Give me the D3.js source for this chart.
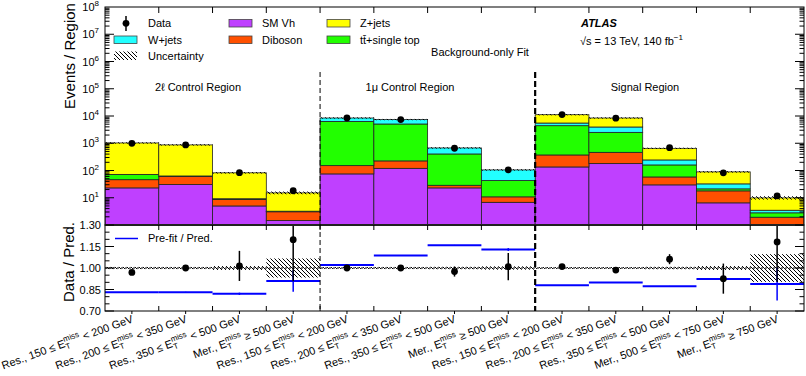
<!DOCTYPE html>
<html><head><meta charset="utf-8">
<script src="https://cdn.jsdelivr.net/npm/d3@7"></script>
<style>
body{margin:0;background:#fff;}
text{font-family:"Liberation Sans",Arial,Helvetica,sans-serif;fill:#000;}
</style></head>
<body>
<svg id="c" width="806" height="376"></svg>
<script>
// ---------------- data ----------------
const categories = ["2l-R150","2l-R200","2l-R350","2l-M500","1mu-R150","1mu-R200","1mu-R350","1mu-M500","SR-R150","SR-R200","SR-R350","SR-M500","SR-M750"];
const labelPre  = ["Res., 150 ≤ ","Res., 200 ≤ ","Res., 350 ≤ ","Mer., ","Res., 150 ≤ ","Res., 200 ≤ ","Res., 350 ≤ ","Mer., ","Res., 150 ≤ ","Res., 200 ≤ ","Res., 350 ≤ ","Mer., 500 ≤ ","Mer., "];
const labelPost = ["< 200 GeV","< 350 GeV","< 500 GeV","≥ 500 GeV","< 200 GeV","< 350 GeV","< 500 GeV","≥ 500 GeV","< 200 GeV","< 350 GeV","< 500 GeV","< 750 GeV","≥ 750 GeV"];
const smVh    = [23, 30.5, 5.0, 1.46, 75, 120, 23, 6.8, 135, 179, 29.7, 6.5, 0.8];
const diboson = [23, 30.5, 3.6, 1.6, 76, 105, 5.7, 4.0, 237, 285, 28.3, 11.4, 1.13];
const ttbar   = [25, 1.5, 0.4, 0.1, 6180, 4865, 376, 31.9, 4043, 2046, 102, 3.3, 0.87];
const wjets   = [1, 0.5, 0.2, 0.05, 2120, 2310, 268, 62.3, 1105, 1440, 84, 11.1, 0.68];
const zjets   = [953, 807, 73, 11.9, 0, 0, 0, 0, 5650, 4500, 406, 56.7, 6.42];
const dataVals = [993, 870, 83.4, 18.1, 8450, 7400, 656, 106, 11280, 8330, 690, 82.4, 11.7];
const dataRatioErr = [0.015, 0.015, 0.105, 0.29, 0.01, 0.012, 0.035, 0.095, 0.01, 0.012, 0.035, 0.105, 0.28];
const uncRel = [0.004, 0.004, 0.01, 0.063, 0.003, 0.004, 0.005, 0.008, 0.003, 0.003, 0.005, 0.01, 0.093];
const prefitRatio = [0.830, 0.831, 0.820, 0.910, 1.021, 1.087, 1.158, 1.129, 0.879, 0.898, 0.872, 0.923, 0.889];
const prefitErr   = [0.003, 0.003, 0.008, 0.075, 0.003, 0.003, 0.003, 0.01, 0.003, 0.003, 0.003, 0.003, 0.115];
const mainTicks = [1e1,1e2,1e3,1e4,1e5,1e6,1e7,1e8];
const ratioTicks = [0.70, 0.85, 1.00, 1.15, 1.30];
const ratioTickLabels = ["0.70","0.85","1.00","1.15","1.30"];

const keys = ["smVh","diboson","ttbar","wjets","zjets"];
const colors = {smVh:"#bf40ff", diboson:"#ff5000", ttbar:"#22ff00", wjets:"#22ffff", zjets:"#ffff00"};

// --------------- layout ----------------
const L = 105, R = 804, T = 7, MB = 225, RB = 311;
const svg = d3.select("#c");
const table = categories.map((c,i)=>({cat:c, smVh:smVh[i], diboson:diboson[i], ttbar:ttbar[i], wjets:wjets[i], zjets:zjets[i]}));
const totals = table.map(d=>keys.reduce((s,k)=>s+d[k],0));

const x = d3.scaleBand().domain(categories).range([L,R]).padding(0);
const bw = x.bandwidth();
const y = d3.scaleLog().domain([1,1e8]).range([MB,T]);
const ry = d3.scaleLinear().domain([0.70,1.30]).range([RB,MB]);

const defs = svg.append("defs");
const pat = defs.append("pattern").attr("id","hatch").attr("patternUnits","userSpaceOnUse").attr("width",4).attr("height",4);
pat.append("path").attr("d","M0,0L4,4M-1,3L1,5M3,-1L5,1").attr("stroke","#000").attr("stroke-width",1);
defs.append("clipPath").attr("id","clipMain").append("rect").attr("x",L).attr("y",T).attr("width",R-L).attr("height",MB-T);
defs.append("clipPath").attr("id","clipRatio").append("rect").attr("x",L).attr("y",MB).attr("width",R-L).attr("height",RB-MB);

// --------------- main panel stack ----------------
const stack = d3.stack().keys(keys)(table);
const gMain = svg.append("g").attr("clip-path","url(#clipMain)");
stack.forEach(s=>{
  gMain.selectAll(null).data(s).join("rect")
    .attr("x",d=>x(d.data.cat)).attr("width",bw)
    .attr("y",d=>y(Math.max(d[1],0.5)))
    .attr("height",d=>Math.max(0, y(Math.max(d[0],0.5)) - y(Math.max(d[1],0.5))))
    .attr("fill",colors[s.key])
    .attr("stroke",d=>(d[1]-d[0])>0?"#222":"none").attr("stroke-width",0.8);
});
// uncertainty band main
gMain.selectAll(null).data(totals).join("rect")
  .attr("x",(d,i)=>x(categories[i])).attr("width",bw)
  .attr("y",(d,i)=>y(d*(1+uncRel[i]))-0.6)
  .attr("height",(d,i)=>y(d*(1-uncRel[i])) - y(d*(1+uncRel[i]))+1.2)
  .attr("fill","url(#hatch)");
// data points main
gMain.selectAll(null).data(dataVals).join("line")
  .attr("x1",(d,i)=>x(categories[i])+bw/2).attr("x2",(d,i)=>x(categories[i])+bw/2)
  .attr("y1",(d,i)=>y(d+dataRatioErr[i]*totals[i])).attr("y2",(d,i)=>y(Math.max(0.5,d-dataRatioErr[i]*totals[i])))
  .attr("stroke","#000").attr("stroke-width",1.5);
gMain.selectAll(null).data(dataVals).join("circle")
  .attr("cx",(d,i)=>x(categories[i])+bw/2).attr("cy",d=>y(d)).attr("r",3.4).attr("fill","#000");

// --------------- ratio panel ----------------
const gR = svg.append("g").attr("clip-path","url(#clipRatio)");
gR.selectAll(null).data(uncRel).join("rect")
  .attr("x",(d,i)=>x(categories[i])).attr("width",bw)
  .attr("y",d=>ry(1+d)-0.5).attr("height",d=>ry(1-d)-ry(1+d)+1)
  .attr("fill","url(#hatch)");
gR.append("line").attr("x1",L).attr("x2",R).attr("y1",ry(1)).attr("y2",ry(1))
  .attr("stroke","#000").attr("stroke-width",1).attr("stroke-dasharray","2,2");
// prefit
gR.selectAll(null).data(prefitRatio).join("line")
  .attr("x1",(d,i)=>x(categories[i])).attr("x2",(d,i)=>x(categories[i])+bw)
  .attr("y1",d=>ry(d)).attr("y2",d=>ry(d)).attr("stroke","#0000ff").attr("stroke-width",2);
gR.selectAll(null).data(prefitRatio).join("line")
  .attr("x1",(d,i)=>x(categories[i])+bw/2).attr("x2",(d,i)=>x(categories[i])+bw/2)
  .attr("y1",(d,i)=>ry(d+prefitErr[i])).attr("y2",(d,i)=>ry(d-prefitErr[i]))
  .attr("stroke","#0000ff").attr("stroke-width",1.5);
// data ratio
const ratioVals = dataVals.map((d,i)=>d/totals[i]);
gR.selectAll(null).data(ratioVals).join("line")
  .attr("x1",(d,i)=>x(categories[i])+bw/2).attr("x2",(d,i)=>x(categories[i])+bw/2)
  .attr("y1",(d,i)=>ry(d+dataRatioErr[i])).attr("y2",(d,i)=>ry(d-dataRatioErr[i]))
  .attr("stroke","#000").attr("stroke-width",1.5);
gR.selectAll(null).data(ratioVals).join("circle")
  .attr("cx",(d,i)=>x(categories[i])+bw/2).attr("cy",d=>ry(d)).attr("r",3.4).attr("fill","#000");

// --------------- frames & ticks ----------------
const edges = categories.map(c=>x(c)).concat([R]);
const inner = edges.slice(1,-1);
const axG = svg.append("g").attr("stroke","#000").attr("fill","none");
axG.append("rect").attr("x",L).attr("y",T).attr("width",R-L).attr("height",MB-T).attr("stroke-width",1);
axG.append("rect").attr("x",L).attr("y",MB).attr("width",R-L).attr("height",RB-MB).attr("stroke-width",1);
axG.append("line").attr("x1",L).attr("x2",R).attr("y1",MB).attr("y2",MB).attr("stroke-width",1.8).attr("stroke","#222");
inner.forEach(e=>{
  axG.append("line").attr("x1",e).attr("x2",e).attr("y1",T).attr("y2",T+6);
  axG.append("line").attr("x1",e).attr("x2",e).attr("y1",MB).attr("y2",MB+5);
  axG.append("line").attr("x1",e).attr("x2",e).attr("y1",RB).attr("y2",RB-5);
});
categories.forEach(c=>{
  axG.append("line").attr("x1",x(c)+bw/2).attr("x2",x(c)+bw/2).attr("y1",RB).attr("y2",RB+3);
});
// log ticks
for(let k=0;k<8;k++){
  for(let m=1;m<10;m++){
    const v=m*Math.pow(10,k);
    if(v<1||v>1e8) continue;
    const len = m===1?9:4.5;
    if(m===1 && k===0) continue;
    axG.append("line").attr("x1",L).attr("x2",L+len).attr("y1",y(v)).attr("y2",y(v));
    axG.append("line").attr("x1",R).attr("x2",R-len).attr("y1",y(v)).attr("y2",y(v));
  }
}
for(let v=0.70; v<=1.3001; v+=0.05){
  const major = ratioTicks.some(t=>Math.abs(t-v)<1e-6);
  const len = major?9:4.5;
  axG.append("line").attr("x1",L).attr("x2",L+len).attr("y1",ry(v)).attr("y2",ry(v));
  axG.append("line").attr("x1",R).attr("x2",R-len).attr("y1",ry(v)).attr("y2",ry(v));
}
// separators
axG.append("line").attr("x1",edges[4]).attr("x2",edges[4]).attr("y1",72).attr("y2",RB)
  .attr("stroke-width",1).attr("stroke-dasharray","5,3");
axG.append("line").attr("x1",edges[8]).attr("x2",edges[8]).attr("y1",72).attr("y2",RB)
  .attr("stroke-width",2.2).attr("stroke-dasharray","6,3");

// --------------- tick labels ----------------
const tl = svg.append("g").style("font-size","11px");
mainTicks.forEach(v=>{
  const t = tl.append("text").attr("x",99).attr("y",y(v)+4).attr("text-anchor","end");
  t.append("tspan").text("10");
  t.append("tspan").attr("dy",-5).style("font-size","8px").text(String(Math.round(Math.log10(v))));
});
ratioTicks.forEach((v,i)=>{
  tl.append("text").attr("x",101).attr("y",ry(v)+4).attr("text-anchor","end").text(ratioTickLabels[i]);
});
// x labels
categories.forEach((c,i)=>{
  const cx = x(c)+bw/2+2, cy = 322;
  const t = svg.append("text").attr("transform",`translate(${cx},${cy}) rotate(-20)`)
    .attr("text-anchor","end").style("font-size","11px");
  t.append("tspan").text(labelPre[i]+"E");
  t.append("tspan").attr("dy",3).style("font-size","8px").text("T");
  t.append("tspan").attr("dx",-4.9).attr("dy",-8).style("font-size","8px").text("miss");
  t.append("tspan").attr("dy",5).text(" "+labelPost[i]);
});

// axis titles
svg.append("text").attr("transform","translate(75,56) rotate(-90)").attr("text-anchor","middle")
  .style("font-size","15px").text("Events / Region");
svg.append("text").attr("transform","translate(74,262) rotate(-90)").attr("text-anchor","middle")
  .style("font-size","15px").text("Data / Pred.");

// --------------- legend ----------------
const lg = svg.append("g").style("font-size","11px");
lg.append("line").attr("x1",126).attr("x2",126).attr("y1",16).attr("y2",31).attr("stroke","#000").attr("stroke-width",1.5);
lg.append("circle").attr("cx",126).attr("cy",23.3).attr("r",3.4).attr("fill","#000");
lg.append("text").attr("x",148).attr("y",27).text("Data");
const boxes = [
  {x:114,y:36,k:"wjets",label:"W+jets",tx:148,ty:44},
  {x:229,y:19.5,k:"smVh",label:"SM Vh",tx:262,ty:27},
  {x:229,y:36,k:"diboson",label:"Diboson",tx:262,ty:44},
  {x:327,y:19.5,k:"zjets",label:"Z+jets",tx:360,ty:27},
  {x:327,y:36,k:"ttbar",label:"tt\u0304+single top",tx:360,ty:44}
];
boxes.forEach(b=>{
  lg.append("rect").attr("x",b.x).attr("y",b.y).attr("width",23).attr("height",7.5)
    .attr("fill",colors[b.k]).attr("stroke","#444").attr("stroke-width",0.8);
  lg.append("text").attr("x",b.tx).attr("y",b.ty).text(b.label);
});
lg.append("rect").attr("x",114).attr("y",51.5).attr("width",23).attr("height",8.5).attr("fill","url(#hatch)");
lg.append("text").attr("x",148).attr("y",60).text("Uncertainty");
lg.append("line").attr("x1",115).attr("x2",138).attr("y1",238.5).attr("y2",238.5).attr("stroke","#0000ff").attr("stroke-width",1.5);
lg.append("text").attr("x",148).attr("y",242).text("Pre-fit / Pred.");

// --------------- annotations ----------------
const an = svg.append("g").style("font-size","11px");
an.append("text").attr("x",581).attr("y",27).style("font-weight","bold").style("font-style","italic").text("ATLAS");
const s = an.append("text").attr("x",580).attr("y",45);
s.append("tspan").text("√s = 13 TeV, 140 fb");
s.append("tspan").attr("dy",-5).style("font-size","8px").text("−1");
an.append("text").attr("x",480).attr("y",56).attr("text-anchor","middle").text("Background-only Fit");
an.append("text").attr("x",198).attr("y",91).attr("text-anchor","middle").text("2ℓ Control Region");
an.append("text").attr("x",410).attr("y",91).attr("text-anchor","middle").text("1μ Control Region");
an.append("text").attr("x",645).attr("y",91).attr("text-anchor","middle").text("Signal Region");
</script>
</body></html>
